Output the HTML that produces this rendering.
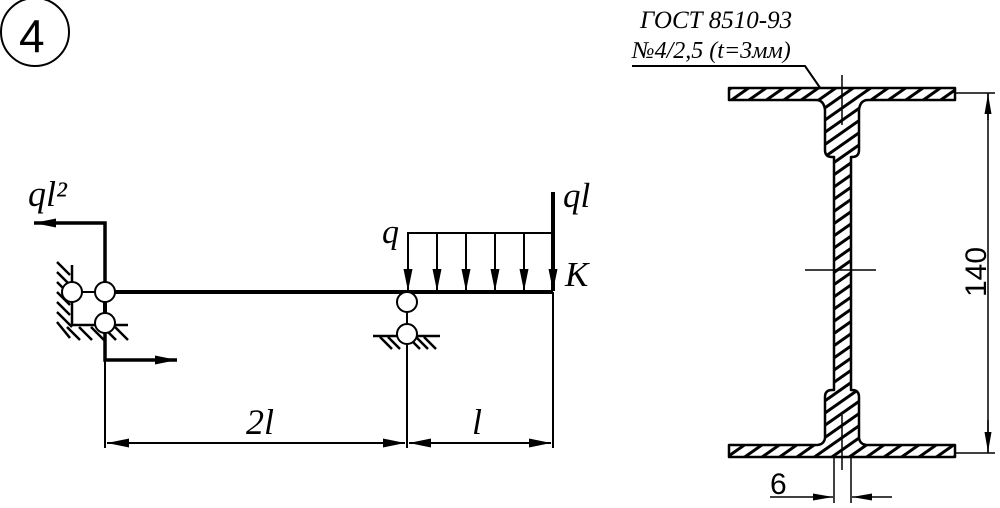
<!DOCTYPE html>
<html><head><meta charset="utf-8"><style>
html,body{margin:0;padding:0;background:#fff;}
svg{display:block;}
text{font-family:"Liberation Serif",serif;font-style:italic;fill:#000;}
</style></head><body>
<svg width="1000" height="508" viewBox="0 0 1000 508" xmlns="http://www.w3.org/2000/svg">
<defs>
<pattern id="h" patternUnits="userSpaceOnUse" width="10" height="10" patternTransform="rotate(55)">
<rect width="10" height="10" fill="#fff"/><rect x="0" y="0" width="3" height="10" fill="#000"/>
</pattern>
<marker id="b" markerWidth="22" markerHeight="10" refX="22" refY="5" orient="auto" markerUnits="userSpaceOnUse" viewBox="0 0 22 10"><path d="M0,0.5 L22,5 L0,9.5 z"/></marker>
<marker id="c" markerWidth="20" markerHeight="8" refX="20" refY="4" orient="auto" markerUnits="userSpaceOnUse" viewBox="0 0 20 8"><path d="M0,0.5 L20,4 L0,7.5 z"/></marker>
</defs>
<circle cx="35" cy="32" r="34" fill="none" stroke="#000" stroke-width="2"/>
<text x="19" y="52" style="font-family:'Liberation Sans',sans-serif;font-style:normal;font-size:46px">4</text>

<g stroke="#000" stroke-width="2.5">
<line x1="72" y1="265" x2="72" y2="325"/><line x1="72" y1="325" x2="128" y2="325"/>
<line x1="57" y1="262" x2="70" y2="275"/><line x1="57" y1="272" x2="70" y2="285"/><line x1="57" y1="282" x2="70" y2="295"/><line x1="57" y1="292" x2="70" y2="305"/><line x1="57" y1="302" x2="70" y2="315"/><line x1="57" y1="312" x2="72" y2="327"/>
<line x1="57" y1="322" x2="70" y2="338"/><line x1="67" y1="327" x2="80" y2="340"/><line x1="79" y1="327" x2="92" y2="340"/><line x1="91" y1="327" x2="104" y2="340"/><line x1="103" y1="327" x2="116" y2="340"/><line x1="115" y1="327" x2="128" y2="340"/>
</g>
<line x1="105" y1="292" x2="553" y2="292" stroke="#000" stroke-width="4"/>
<line x1="72" y1="292" x2="105" y2="292" stroke="#000" stroke-width="2"/>
<line x1="105" y1="292" x2="105" y2="323" stroke="#000" stroke-width="4"/>
<polyline points="105,292 105,223 34,223" fill="none" stroke="#000" stroke-width="3.5" marker-end="url(#b)"/>
<text x="28" y="206" style="font-size:36px">ql²</text>
<polyline points="105,330 105,360 177,360" fill="none" stroke="#000" stroke-width="3.5" marker-end="url(#b)"/>
<circle cx="72" cy="292" r="10" fill="#fff" stroke="#000" stroke-width="2"/>
<circle cx="105" cy="292" r="10" fill="#fff" stroke="#000" stroke-width="2"/>
<circle cx="105" cy="323" r="10" fill="#fff" stroke="#000" stroke-width="2"/>

<g stroke="#000" stroke-width="2.5">
<line x1="373" y1="336" x2="440" y2="336"/>
<line x1="380" y1="337" x2="392" y2="349"/><line x1="388" y1="337" x2="400" y2="349"/><line x1="408" y1="337" x2="420" y2="349"/><line x1="416" y1="337" x2="428" y2="349"/><line x1="424" y1="337" x2="436" y2="349"/>
</g>
<line x1="407" y1="300" x2="407" y2="334" stroke="#000" stroke-width="2"/>
<circle cx="407" cy="302" r="10" fill="#fff" stroke="#000" stroke-width="2"/>
<circle cx="407" cy="334" r="10" fill="#fff" stroke="#000" stroke-width="2"/>
<line x1="407" y1="233" x2="553" y2="233" stroke="#000" stroke-width="2"/>
<g stroke="#000" stroke-width="2">
<line x1="408" y1="233" x2="408" y2="291" marker-end="url(#b)"/>
<line x1="437" y1="233" x2="437" y2="291" marker-end="url(#b)"/>
<line x1="466" y1="233" x2="466" y2="291" marker-end="url(#b)"/>
<line x1="495" y1="233" x2="495" y2="291" marker-end="url(#b)"/>
<line x1="524" y1="233" x2="524" y2="291" marker-end="url(#b)"/>
</g>
<line x1="553" y1="192" x2="553" y2="291" stroke="#000" stroke-width="4" marker-end="url(#b)"/>
<text x="382" y="243" style="font-size:34px">q</text>
<text x="563" y="207" style="font-size:35px">ql</text>
<text x="565" y="286" style="font-size:35px">K</text>
<g stroke="#000" stroke-width="2">
<line x1="105" y1="360" x2="105" y2="448"/><line x1="407" y1="345" x2="407" y2="448"/><line x1="553" y1="292" x2="553" y2="448"/>
<line x1="107" y1="443" x2="405" y2="443" marker-end="url(#b)"/>
<line x1="405" y1="443" x2="107" y2="443" marker-end="url(#b)"/>
<line x1="409" y1="443" x2="551" y2="443" marker-end="url(#b)"/>
<line x1="551" y1="443" x2="409" y2="443" marker-end="url(#b)"/>
</g>
<text x="246" y="434" style="font-size:36px">2l</text>
<text x="472" y="434" style="font-size:36px">l</text>

<text x="640" y="28" style="font-size:25px">ГОСТ 8510-93</text>
<text x="632" y="58" style="font-size:24px">№4/2,5 (t=3мм)</text>
<polyline points="632,66 805,66 823,92" fill="none" stroke="#000" stroke-width="2"/>

<path d="M729,88 L955,88 L955,100 L868,100 Q860,100 859,110 L859,150 Q859,157 852,157 L851,157 L851,390 L852,390 Q859,390 859,397 L859,438 Q860,445 868,445 L955,445 L955,457 L729,457 L729,445 L816,445 Q824,445 825,438 L825,397 Q825,390 832,390 L834,390 L834,157 L832,157 Q825,157 825,150 L825,110 Q824,100 816,100 L729,100 Z" fill="url(#h)" stroke="#000" stroke-width="2.5" stroke-linejoin="round"/>
<g stroke="#000" stroke-width="1.5">
<line x1="842" y1="75" x2="842" y2="125"/><line x1="842" y1="415" x2="842" y2="470"/>
<line x1="805" y1="270" x2="876" y2="270"/>
<line x1="834" y1="457" x2="834" y2="503"/><line x1="851" y1="457" x2="851" y2="503"/>
<line x1="955" y1="93" x2="995" y2="93"/><line x1="955" y1="453" x2="995" y2="453"/>
<line x1="988" y1="93" x2="988" y2="453"/>
</g>
<g stroke="#000" stroke-width="1.5">
<line x1="988" y1="120" x2="988" y2="94" marker-end="url(#c)"/>
<line x1="988" y1="420" x2="988" y2="452" marker-end="url(#c)"/>
<line x1="770" y1="497" x2="833" y2="497" marker-end="url(#c)"/>
<line x1="892" y1="497" x2="852" y2="497" marker-end="url(#c)"/>
</g>
<text x="770" y="494" style="font-family:'Liberation Sans',sans-serif;font-style:normal;font-size:30px">6</text>
<text transform="translate(986,272) rotate(-90)" text-anchor="middle" style="font-family:'Liberation Sans',sans-serif;font-style:normal;font-size:30px">140</text>
</svg>
</body></html>
